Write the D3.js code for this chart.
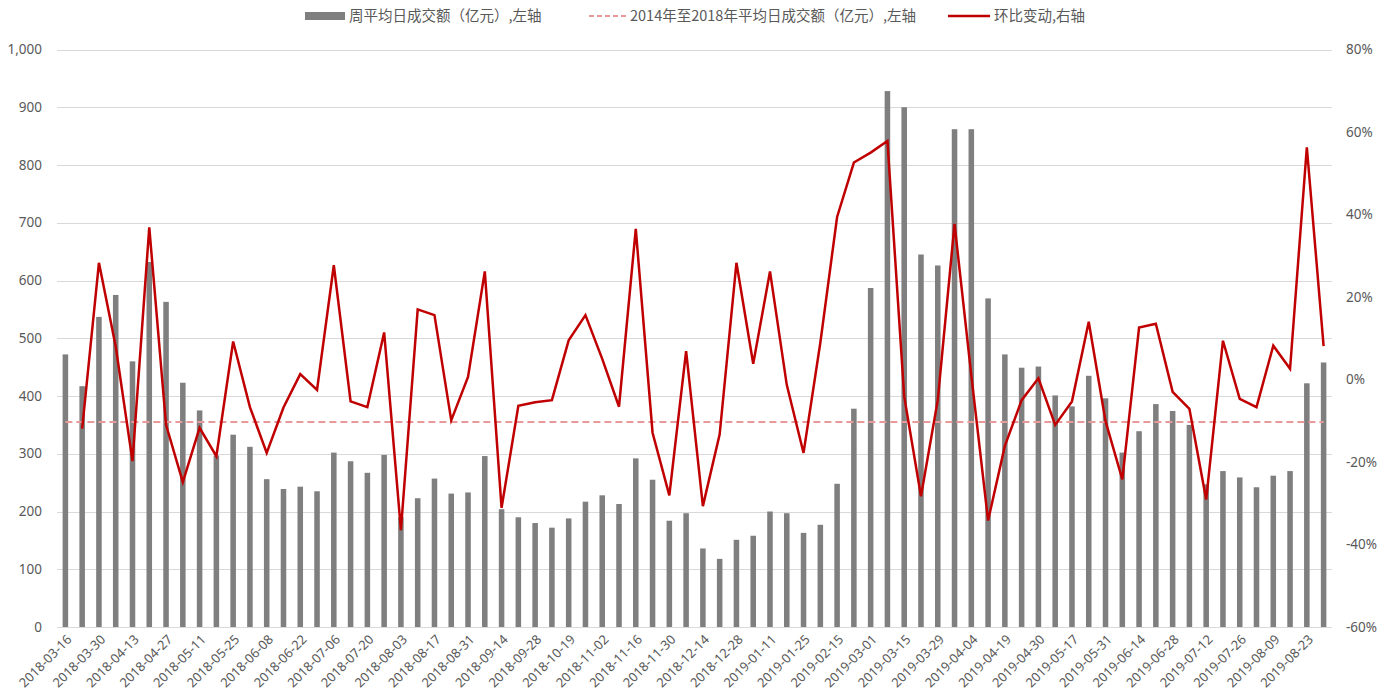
<!DOCTYPE html>
<html>
<head>
<meta charset="utf-8">
<script src="https://cdn.jsdelivr.net/npm/d3@7"></script>
<style>
  body { margin: 0; background: #fff; }
  svg text { fill: #595959; }
</style>
</head>
<body>
<svg id="chart" width="1387" height="700"></svg>
<script>
// weekly dates (only every other one is shown on the axis)
var dates = [
  "2018-03-16","2018-03-23","2018-03-30","2018-04-04","2018-04-13","2018-04-20","2018-04-27","2018-05-04",
  "2018-05-11","2018-05-18","2018-05-25","2018-06-01","2018-06-08","2018-06-15","2018-06-22","2018-06-29",
  "2018-07-06","2018-07-13","2018-07-20","2018-07-27","2018-08-03","2018-08-10","2018-08-17","2018-08-24",
  "2018-08-31","2018-09-07","2018-09-14","2018-09-21","2018-09-28","2018-10-12","2018-10-19","2018-10-26",
  "2018-11-02","2018-11-09","2018-11-16","2018-11-23","2018-11-30","2018-12-07","2018-12-14","2018-12-21",
  "2018-12-28","2019-01-04","2019-01-11","2019-01-18","2019-01-25","2019-02-01","2019-02-15","2019-02-22",
  "2019-03-01","2019-03-08","2019-03-15","2019-03-22","2019-03-29","2019-04-02","2019-04-04","2019-04-12",
  "2019-04-19","2019-04-26","2019-04-30","2019-05-10","2019-05-17","2019-05-24","2019-05-31","2019-06-06",
  "2019-06-14","2019-06-21","2019-06-28","2019-07-05","2019-07-12","2019-07-19","2019-07-26","2019-08-02",
  "2019-08-09","2019-08-16","2019-08-23","2019-08-30"
];

// 周平均日成交额（亿元）
var weeklyAvg = [
  472, 417, 537, 575, 460, 632, 563, 423, 375, 297, 333, 312, 256, 239, 243, 235,
  302, 287, 267, 298, 190, 223, 257, 231, 233, 296, 204, 190, 180, 172, 188, 217,
  228, 213, 292, 255, 184, 197, 136, 118, 151, 158, 200, 197, 163, 177, 248, 378,
  587, 928, 900, 645, 626, 862, 862, 569, 472, 449, 451, 401, 382, 435, 396, 302,
  339, 386, 374, 350, 247, 270, 259, 242, 262, 270, 422, 458
];

// 环比变动 (%)
var weekChange = [
  null, -11.9, 28.3, 8, -19.8, 36.9, -11, -24.9, -11.7, -18.6, 9.2, -6.7, -17.8, -6.8, 1.3, -2.5,
  27.7, -5.3, -6.7, 11.4, -36.5, 17, 15.6, -9.9, 0.6, 26.2, -31.1, -6.4, -5.5, -5.0, 9.5, 15.6,
  5, -6.6, 36.5, -12.9, -28.1, 6.9, -30.7, -13.3, 28.3, 3.8, 26.2, -1.3, -17.8, 8.9, 39.4, 52.6,
  55, 57.8, -4.1, -28.3, -5, 37.7, 1, -34.2, -16.1, -5, 0.3, -11, -5.3, 14, -10.1, -24.2,
  12.6, 13.5, -3, -7.1, -29.1, 9.4, -4.7, -6.7, 8.2, 2.6, 56.3, 8.1
];

// 2014年至2018年平均日成交额
var longRunAvg = 355;

var leftTicks = [0, 100, 200, 300, 400, 500, 600, 700, 800, 900, 1000];
var rightTicks = [-60, -40, -20, 0, 20, 40, 60, 80];

var legendNames = ["周平均日成交额（亿元）,左轴", "2014年至2018年平均日成交额（亿元）,左轴", "环比变动,右轴"];

var svg = d3.select("#chart");
var margin = {left: 57, right: 55, top: 49.5, bottom: 73};
var W = 1387, H = 700;
var x0 = margin.left, x1 = W - margin.right;
var yTop = margin.top, yBot = H - margin.bottom;

var x = d3.scaleBand().domain(dates).range([x0, x1]).paddingInner(0.67).paddingOuter(0.335);
var yL = d3.scaleLinear().domain([0, 1000]).range([yBot, yTop]);
var yR = d3.scaleLinear().domain([-60, 80]).range([yBot, yTop]);
var cx = function(d) { return x(d) + x.bandwidth() / 2; };

// gridlines
svg.append("g").selectAll("line").data(leftTicks).enter().append("line")
  .attr("x1", x0).attr("x2", x1)
  .attr("y1", function(d) { return Math.round(yL(d)) + 0.5; })
  .attr("y2", function(d) { return Math.round(yL(d)) + 0.5; })
  .attr("stroke", "#d9d9d9").attr("stroke-width", 1);

// left axis labels
var fmt = d3.format(",");
svg.append("g").selectAll("text").data(leftTicks).enter().append("text")
  .attr("x", 42).attr("y", function(d) { return yL(d); })
  .attr("dy", "0.35em").attr("text-anchor", "end")
  .style("font", "13.5px 'Noto Sans', sans-serif")
  .text(function(d) { return fmt(d); });

// right axis labels
svg.append("g").selectAll("text").data(rightTicks).enter().append("text")
  .attr("x", 1346).attr("y", function(d) { return yR(d); })
  .attr("dy", "0.35em").attr("text-anchor", "start")
  .style("font", "13.5px 'Noto Sans', sans-serif")
  .text(function(d) { return d + "%"; });

// bars
svg.append("g").selectAll("rect").data(weeklyAvg).enter().append("rect")
  .attr("x", function(d, i) { return x(dates[i]); })
  .attr("width", x.bandwidth())
  .attr("y", function(d) { return yL(d); })
  .attr("height", function(d) { return yBot - yL(d); })
  .attr("fill", "#7f7f7f");

// long-run average dashed line
svg.append("line")
  .attr("x1", cx(dates[0])).attr("x2", cx(dates[dates.length - 1]))
  .attr("y1", yL(longRunAvg)).attr("y2", yL(longRunAvg))
  .attr("stroke", "#e89a9a").attr("stroke-width", 2)
  .attr("stroke-dasharray", "7,4");

// week-on-week change line
var line = d3.line()
  .defined(function(d) { return d != null; })
  .x(function(d, i) { return cx(dates[i]); })
  .y(function(d) { return yR(d); });
svg.append("path").datum(weekChange)
  .attr("d", line)
  .attr("fill", "none").attr("stroke", "#c00000").attr("stroke-width", 2.5)
  .attr("stroke-linejoin", "miter");

// x labels, every other week, rotated
svg.append("g").selectAll("text").data(dates.filter(function(d, i) { return i % 2 == 0; }))
  .enter().append("text")
  .attr("transform", function(d) { return "translate(" + (cx(d) + 4) + "," + (yBot + 10) + ") rotate(-45)"; })
  .attr("text-anchor", "end").attr("dy", "0.35em")
  .style("font", "13px 'Noto Sans', sans-serif")
  .text(function(d) { return d; });

// legend
var lg = svg.append("g").style("font", "14.5px 'Noto Sans CJK SC', sans-serif");
lg.append("rect").attr("x", 305).attr("y", 12).attr("width", 40).attr("height", 8).attr("fill", "#7f7f7f");
lg.append("text").attr("x", 349).attr("y", 16).attr("dy", "0.35em").text(legendNames[0]);
lg.append("line").attr("x1", 589).attr("x2", 626).attr("y1", 16).attr("y2", 16)
  .attr("stroke", "#e89a9a").attr("stroke-width", 2).attr("stroke-dasharray", "5,3");
lg.append("text").attr("x", 630).attr("y", 16).attr("dy", "0.35em").text(legendNames[1]);
lg.append("line").attr("x1", 948).attr("x2", 990).attr("y1", 16).attr("y2", 16)
  .attr("stroke", "#c00000").attr("stroke-width", 2.5);
lg.append("text").attr("x", 994).attr("y", 16).attr("dy", "0.35em").text(legendNames[2]);
</script>
</body>
</html>
